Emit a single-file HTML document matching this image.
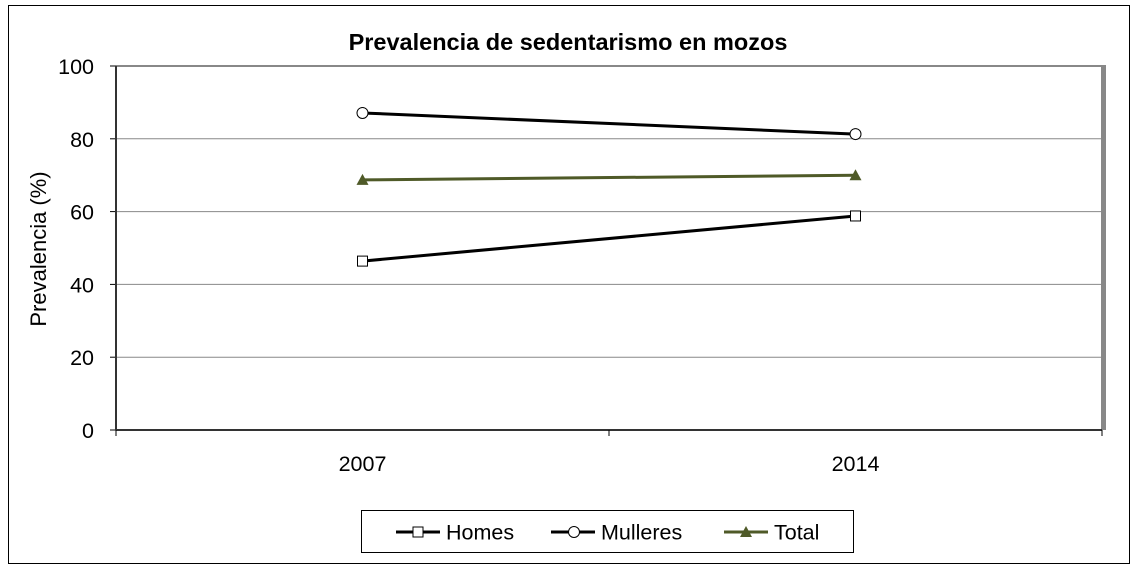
<!DOCTYPE html>
<html><head><meta charset="utf-8"><style>
body{margin:0;background:#fff}
svg{display:block;font-family:"Liberation Sans",sans-serif}
</style></head><body>
<svg width="1136" height="572">
<rect x="8.5" y="5.5" width="1121" height="558" fill="#fff" stroke="#000"/>
<text x="568" y="50" text-anchor="middle" font-size="23.5" font-weight="bold">Prevalencia de sedentarismo en mozos</text>
<g id="plot"></g>
<text transform="translate(46,249) rotate(-90)" text-anchor="middle" font-size="22">Prevalencia (%)</text>
<g>
<rect x="361.5" y="510.5" width="492" height="42" fill="#fff" stroke="#000"/>
<g><line x1="396" y1="532" x2="440" y2="532" stroke="#000" stroke-width="3"/><rect x="413" y="527" width="10" height="10" fill="#fff" stroke="#000"/><text x="446" y="539.5" font-size="21.5">Homes</text></g>
<g><line x1="551" y1="532" x2="595" y2="532" stroke="#000" stroke-width="3"/><circle cx="574" cy="532" r="5.5" fill="#fff" stroke="#000"/><text x="601" y="539.5" font-size="21.5">Mulleres</text></g>
<g><line x1="724" y1="532" x2="768" y2="532" stroke="#4f5a28" stroke-width="3"/><polygon points="746,526 752,537 740,537" fill="#4f5a28"/><text x="774" y="539.5" font-size="21.5">Total</text></g>
</g>
</svg>
<script>
const categories=["2007","2014"];
const homes=[46.4,58.8];
const mulleres=[87.1,81.3];
const total=[68.7,70.0];
const yTicks=[0,20,40,60,80,100];
const NS="http://www.w3.org/2000/svg";
const g=document.getElementById('plot');
const X0=116,X1=1102,Y0=430,Y1=66;
const y=v=>Y0-(v/100)*(Y0-Y1);
const band=(X1-X0)/categories.length;
const x=i=>X0+band*(i+0.5);
function mk(t,a,p){const e=document.createElementNS(NS,t);for(const k in a)e.setAttribute(k,a[k]);(p||g).appendChild(e);return e;}
yTicks.forEach(v=>{
 if(v>0&&v<100){const l=mk('line',{x1:X0,x2:X1,y1:y(v),y2:y(v),stroke:'#888','stroke-width':1});
 
 }
 mk('line',{x1:X0-6,x2:X0,y1:y(v),y2:y(v),stroke:'#000'});
 const t=mk('text',{x:X0-22,y:y(v)+8,'text-anchor':'end','font-size':21.5});t.textContent=v;
 
 
});
const fr=mk('path',{d:`M${X0} ${Y1}H${X1}V${Y0}`,fill:'none',stroke:'#888','stroke-width':2});


mk('line',{x1:X1+2,x2:X1+2,y1:Y1-1,y2:Y0,stroke:'#888','stroke-width':4});
const ya=mk('line',{x1:X0,x2:X0,y1:Y1,y2:Y0,stroke:'#333','stroke-width':2});


const xa=mk('line',{x1:X0,x2:X1,y1:Y0,y2:Y0,stroke:'#333','stroke-width':2});


for(let i=0;i<=categories.length;i++)mk('line',{x1:X0+band*i,x2:X0+band*i,y1:Y0,y2:Y0+6,stroke:'#000'});
categories.forEach((c,i)=>{const t=mk('text',{x:x(i),y:Y0+41,'text-anchor':'middle','font-size':21.5});t.textContent=c;
 
 });
function series(name,vals,color,marker){
 const sg=mk('g',{});
 
 
 mk('polyline',{points:vals.map((v,i)=>x(i)+','+y(v)).join(' '),fill:'none',stroke:color,'stroke-width':3},sg);
 vals.forEach((v,i)=>{let m;const cx=x(i),cy=y(v);
  if(marker==='sq')m=mk('rect',{x:cx-5,y:cy-5,width:10,height:10,fill:'#fff',stroke:'#000'},sg);
  else if(marker==='ci')m=mk('circle',{cx,cy,r:5.5,fill:'#fff',stroke:'#000'},sg);
  else m=mk('polygon',{points:`${cx},${cy-6} ${cx+6},${cy+5} ${cx-6},${cy+5}`,fill:color},sg);
  
  });
}
series('homes',homes,'#000','sq');
series('mulleres',mulleres,'#000','ci');
series('total',total,'#4f5a28','tri');
</script>
</body></html>
